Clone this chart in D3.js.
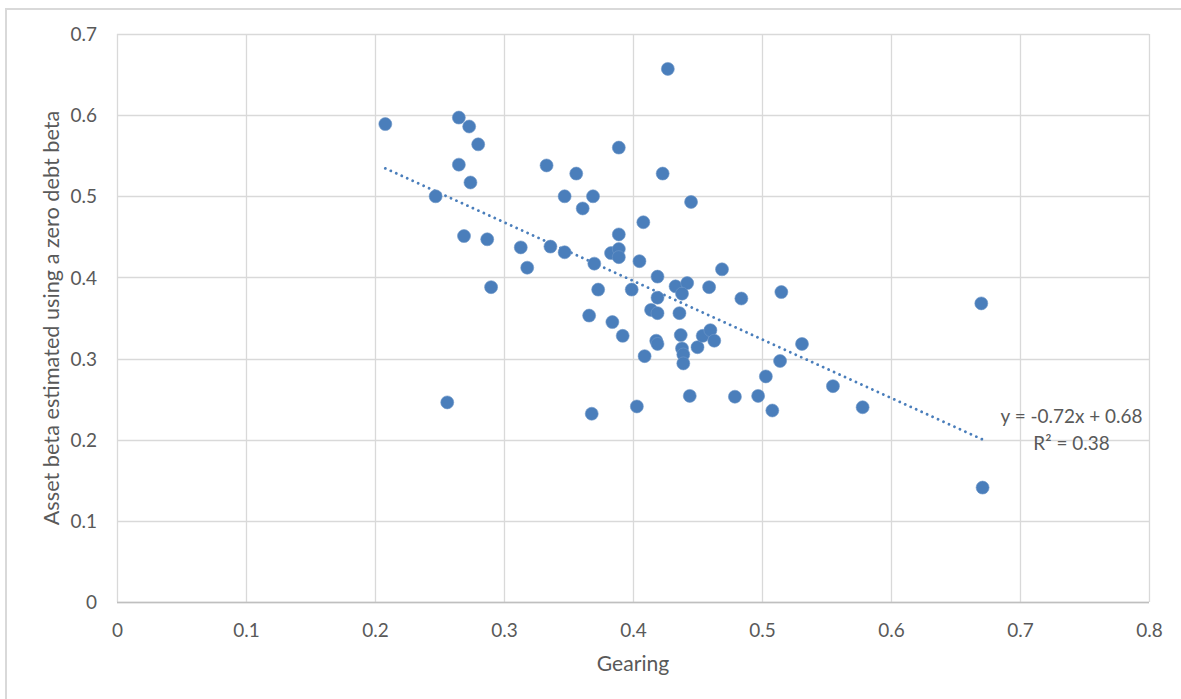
<!DOCTYPE html>
<html>
<head>
<meta charset="utf-8">
<script src="https://cdn.jsdelivr.net/npm/d3@7/dist/d3.min.js"></script>
<style>
  html, body { margin: 0; padding: 0; background: #ffffff; }
  svg { display: block; }
  text { font-family: Lato, "Open Sans", sans-serif; fill: #595959; }
</style>
</head>
<body>
<svg id="chart" width="1181" height="699"></svg>
<script>
// ---- data ----
const gearing = [
  0.208, 0.265, 0.273, 0.280, 0.265, 0.274, 0.247, 0.269, 0.287, 0.290,
  0.313, 0.318, 0.333, 0.356, 0.347, 0.369, 0.361, 0.336, 0.347, 0.370,
  0.389, 0.427, 0.423, 0.445, 0.408, 0.389, 0.383, 0.389, 0.389, 0.405,
  0.373, 0.399, 0.419, 0.469, 0.433, 0.442, 0.438, 0.459, 0.419, 0.484,
  0.515, 0.366, 0.384, 0.392, 0.414, 0.419, 0.436, 0.256, 0.368, 0.403,
  0.444, 0.479, 0.497, 0.508, 0.503, 0.514, 0.531, 0.555, 0.409, 0.418,
  0.419, 0.437, 0.438, 0.439, 0.439, 0.450, 0.454, 0.460, 0.463, 0.670,
  0.671, 0.578
];
const assetBeta = [
  0.589, 0.597, 0.586, 0.564, 0.539, 0.517, 0.500, 0.451, 0.447, 0.388,
  0.437, 0.412, 0.538, 0.528, 0.500, 0.500, 0.485, 0.438, 0.431, 0.417,
  0.560, 0.657, 0.528, 0.493, 0.468, 0.453, 0.430, 0.435, 0.425, 0.420,
  0.385, 0.385, 0.401, 0.410, 0.389, 0.393, 0.380, 0.388, 0.375, 0.374,
  0.382, 0.353, 0.345, 0.328, 0.360, 0.356, 0.356, 0.246, 0.232, 0.241,
  0.254, 0.253, 0.254, 0.236, 0.278, 0.297, 0.318, 0.266, 0.303, 0.322,
  0.318, 0.329, 0.3125, 0.305, 0.294, 0.314, 0.328, 0.335, 0.322, 0.368,
  0.141, 0.240
];
const xTicks = [0, 0.1, 0.2, 0.3, 0.4, 0.5, 0.6, 0.7, 0.8];
const yTicks = [0, 0.1, 0.2, 0.3, 0.4, 0.5, 0.6, 0.7];
const xTitle = "Gearing";
const yTitle = "Asset beta estimated using a zero debt beta";
const equationLines = ["y = -0.72x + 0.68", "R\u00B2 = 0.38"];

// ---- layout ----
const svg = d3.select("#chart");
const plot = { left: 117, right: 1149, top: 34, bottom: 602 };
const x = d3.scaleLinear().domain([0, 0.8]).range([plot.left, plot.right]);
const y = d3.scaleLinear().domain([0, 0.7]).range([plot.bottom, plot.top]);
const blue = "#4a7ebb";

function fitFont(sel, target) {
  const base = 20;
  sel.style("font-size", base + "px");
  const w = sel.node().getComputedTextLength();
  sel.style("font-size", (base * target / w) + "px");
}

// outer chart border
svg.append("rect")
  .attr("x", 6).attr("y", 9)
  .attr("width", 1300).attr("height", 800)
  .attr("fill", "none").attr("stroke", "#d9d9d9").attr("stroke-width", 2);

// gridlines
const grid = svg.append("g");
grid.selectAll("line.v").data(xTicks).join("line")
  .attr("x1", d => Math.round(x(d)) + 0.5).attr("x2", d => Math.round(x(d)) + 0.5)
  .attr("y1", plot.top).attr("y2", plot.bottom)
  .attr("stroke", "#d9d9d9").attr("stroke-width", 1.3);
grid.selectAll("line.h").data(yTicks).join("line")
  .attr("y1", d => Math.round(y(d)) + 0.5).attr("y2", d => Math.round(y(d)) + 0.5)
  .attr("x1", plot.left).attr("x2", plot.right)
  .attr("stroke", "#d9d9d9").attr("stroke-width", 1.3);
// bottom axis line
svg.append("line")
  .attr("x1", plot.left).attr("x2", plot.right)
  .attr("y1", Math.round(y(0)) + 0.5).attr("y2", Math.round(y(0)) + 0.5)
  .attr("stroke", "#bfbfbf").attr("stroke-width", 1.3);

// axes (labels only)
const xAxis = d3.axisBottom(x).tickValues(xTicks).tickSize(0).tickFormat(d => d3.format("")(+d.toFixed(1)));
const gx = svg.append("g").attr("transform", `translate(0,${plot.bottom})`).call(xAxis);
gx.select(".domain").remove();
gx.selectAll("text").attr("dy", null).attr("y", 35)
  .style("font-family", "Lato, 'Open Sans', sans-serif").attr("fill", "#595959");

const yAxis = d3.axisLeft(y).tickValues(yTicks).tickSize(0).tickFormat(d => d3.format("")(+d.toFixed(1)));
const gy = svg.append("g").attr("transform", `translate(${plot.left},0)`).call(yAxis);
gy.select(".domain").remove();
gy.selectAll("text").attr("x", -20).attr("dy", "0.35em")
  .style("font-family", "Lato, 'Open Sans', sans-serif").attr("fill", "#595959");

// size tick labels so "0.8" is ~26.5px wide
const probe = svg.append("text").text("0.8");
fitFont(probe, 26.5);
const tickSize = probe.style("font-size");
probe.remove();
gx.selectAll("text").style("font-size", tickSize);
gy.selectAll("text").style("font-size", tickSize);

// axis titles
const xt = svg.append("text").attr("x", (plot.left + plot.right) / 2).attr("y", 671)
  .attr("text-anchor", "middle").text(xTitle);
fitFont(xt, 72.5);
const yt = svg.append("text")
  .attr("transform", `translate(59,${(plot.top + plot.bottom) / 2}) rotate(-90)`)
  .attr("text-anchor", "middle").text(yTitle);
fitFont(yt, 415);

// trendline (least squares from data)
const n = gearing.length;
const mx = d3.mean(gearing), my = d3.mean(assetBeta);
let sxy = 0, sxx = 0;
for (let i = 0; i < n; i++) { sxy += (gearing[i] - mx) * (assetBeta[i] - my); sxx += (gearing[i] - mx) ** 2; }
const slope = sxy / sxx, intercept = my - slope * mx;
const [x0, x1] = d3.extent(gearing);
svg.append("line")
  .attr("x1", x(x0)).attr("y1", y(slope * x0 + intercept))
  .attr("x2", x(x1)).attr("y2", y(slope * x1 + intercept))
  .attr("stroke", blue).attr("stroke-width", 2.8)
  .attr("stroke-linecap", "round").attr("stroke-dasharray", "0.01 6");

// points
const pts = gearing.map((g, i) => ({ g, b: assetBeta[i] }));
svg.append("g").selectAll("circle").data(pts).join("circle")
  .attr("cx", d => x(d.g)).attr("cy", d => y(d.b)).attr("r", 6.5)
  .attr("fill", blue).attr("stroke", "#6f97c8").attr("stroke-width", 0.6);

// equation label
const eq = svg.append("g");
const l1 = eq.append("text").attr("x", 1071.5).attr("y", 423).attr("text-anchor", "middle").text(equationLines[0]);
fitFont(l1, 142);
const l2 = eq.append("text").attr("x", 1071.5).attr("y", 450).attr("text-anchor", "middle").text(equationLines[1]);
l2.style("font-size", l1.style("font-size"));
</script>
</body>
</html>
